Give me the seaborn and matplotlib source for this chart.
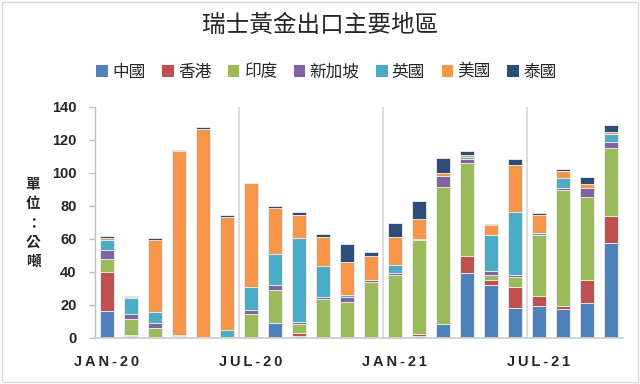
import numpy as np
import pandas as pd
import matplotlib.pyplot as plt
import seaborn as sns
from matplotlib.patches import Patch, Rectangle

# Monthly Swiss gold exports by destination, tonnes (Jan-20 .. Oct-21)
months = ['JAN-20', 'FEB-20', 'MAR-20', 'APR-20', 'MAY-20', 'JUN-20',
          'JUL-20', 'AUG-20', 'SEP-20', 'OCT-20', 'NOV-20', 'DEC-20',
          'JAN-21', 'FEB-21', 'MAR-21', 'APR-21', 'MAY-21', 'JUN-21',
          'JUL-21', 'AUG-21', 'SEP-21', 'OCT-21']
regions = ['中國', '香港', '印度', '新加坡', '英國', '美國', '泰國']

china = [16.5, 1.4, 0.3, 0.3, 0.2, 0.6, 0, 9.1, 1.4, 0, 0, 0,
         0, 1.0, 8.5, 39.3, 32.0, 18.3, 19.3, 17.5, 21.0, 57.8]
hong_kong = [23.2, 0.2, 0, 0, 0, 0, 0, 0, 1.6, 0, 0, 0,
             0, 1.2, 0, 10.5, 3.3, 12.7, 6.1, 1.8, 14.0, 16.3]
india = [8.3, 9.7, 6.0, 0.3, 0.2, 0, 14.3, 20.1, 5.7, 23.8, 21.6, 34.2,
         38.3, 57.2, 82.8, 56.4, 2.8, 5.9, 36.8, 70.3, 50.6, 41.3]
singapore = [5.4, 3.0, 2.9, 0.6, 0.2, 0, 2.4, 2.8, 1.0, 1.0, 3.2, 0.8,
             1.2, 0.4, 6.6, 2.4, 2.2, 1.4, 0.4, 1.3, 5.1, 3.3]
uk = [6.0, 9.7, 6.8, 0.4, 0, 4.4, 13.9, 18.6, 50.7, 18.5, 1.2, 0,
      5.0, 0, 0, 1.2, 22.2, 38.0, 0.9, 5.8, 0.3, 5.0]
usa = [1.0, 0.8, 43.1, 111.8, 126.3, 68.1, 63.3, 28.4, 14.1, 18.1, 20.1, 14.4,
       16.9, 12.1, 2.2, 1.2, 6.0, 28.5, 10.8, 4.6, 2.6, 1.2]
thailand = [1.2, 0.8, 1.2, 0.3, 1.2, 1.2, 0.3, 0.8, 1.6, 1.5, 10.9, 2.4,
            8.5, 11.3, 8.7, 2.4, 0.8, 3.4, 1.6, 1.0, 4.0, 4.4]

colors = ['#4F81BD', '#C0504D', '#9BBB59', '#8064A2', '#4BACC6', '#F79646', '#2C4D75']

# long-form table for seaborn
series = [china, hong_kong, india, singapore, uk, usa, thailand]
df = pd.DataFrame({
    'month': np.tile(np.arange(len(months)), len(regions)),
    'region': np.repeat(regions, len(months)),
    'tons': np.concatenate(series),
})
df = df[df['tons'] > 0]

sns.set_theme(style='white')
plt.rcParams['font.family'] = ['Noto Sans CJK TC', 'DejaVu Sans']

fig = plt.figure(figsize=(6.4, 3.84), dpi=100)
ax = fig.add_axes([0.148, 0.12, 0.825, 0.6014])

# seaborn puts the first hue level on top, so pass them reversed
sns.histplot(data=df, x='month', weights='tons', hue='region',
             hue_order=regions[::-1], multiple='stack', discrete=True,
             shrink=0.58, palette=dict(zip(regions, colors)), alpha=1,
             edgecolor='#eeeeee', linewidth=0.6, legend=False, ax=ax)

ax.set_xlim(-0.5, len(months) - 0.5)
ax.set_ylim(0, 140)
ax.set_yticks(range(0, 141, 20))

for xv in [5.5, 11.5, 17.5]:
    ax.axvline(xv, color='#d9d9d9', lw=1.3, zorder=0)

tick_font = {'family': ['Liberation Sans', 'DejaVu Sans'], 'weight': 'bold', 'size': 10.5}
ax.set_yticklabels([str(v) for v in range(0, 141, 20)], fontdict=tick_font)
pos = list(range(0, len(months), 6))
ax.set_xticks(pos)
ax.set_xticklabels(['\u2009'.join(months[p]) for p in pos], fontdict=tick_font)

ax.tick_params(axis='y', left=True, length=4, width=1, color='#bfbfbf', pad=9)
ax.tick_params(axis='x', bottom=False, pad=6)
for side in ['top', 'right']:
    ax.spines[side].set_visible(False)
ax.spines['left'].set_color('#bfbfbf')
ax.spines['bottom'].set_color('#d0d0d0')
ax.spines['left'].set_linewidth(1)
ax.spines['bottom'].set_linewidth(1.3)

ax.set_xlabel('')
ax.set_ylabel('\n'.join('單位：公噸'), rotation=0, fontsize=10.5, fontweight='bold',
              linespacing=1.25, va='center', ha='center')
ax.yaxis.set_label_coords(-0.117, 0.5)

fig.text(0.5, 1 - 25 / 384, '瑞士黃金出口主要地區', ha='center', va='center', fontsize=17)

handles = [Patch(facecolor=c, edgecolor='none', label=r) for r, c in zip(regions, colors)]
fig.legend(handles=handles, loc='center', bbox_to_anchor=(0.51, 1 - 72 / 384),
           ncol=7, frameon=False, handlelength=0.7, handleheight=0.7,
           handletextpad=0.25, columnspacing=1.0, fontsize=12)

fig.patches.append(Rectangle((0.003, 0.005), 0.994, 0.99, transform=fig.transFigure,
                             fill=False, edgecolor='#d9d9d9', lw=1))

fig.savefig('out.png', dpi=100)
